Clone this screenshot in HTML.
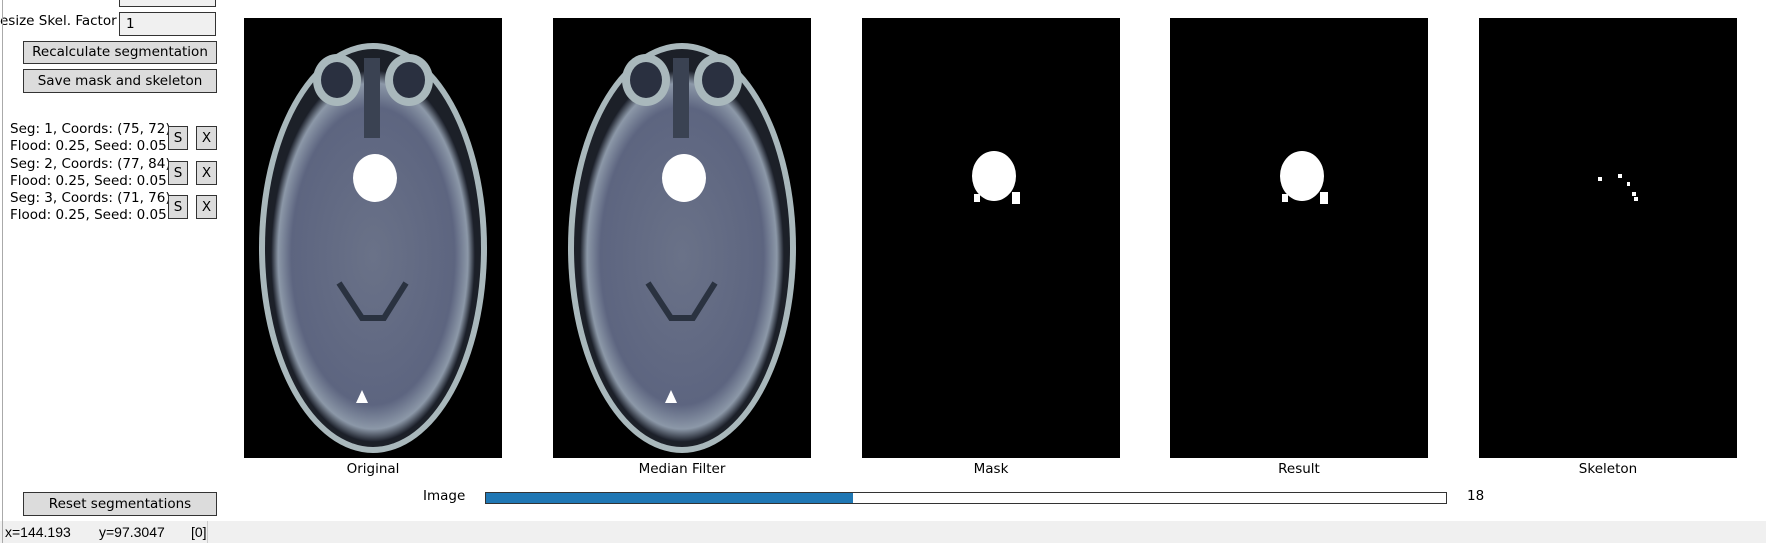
<!DOCTYPE html>
<html><head><meta charset="utf-8"><style>
body{margin:0;width:1766px;height:543px;background:#fff;position:relative;overflow:hidden;font-family:"DejaVu Sans","Liberation Sans",sans-serif;font-size:13px;color:#000}
.abs{position:absolute}
.btn{position:absolute;background:#dcdcdc;border:1px solid #333;box-sizing:border-box;text-align:center;font-size:13.5px;white-space:nowrap}
.tb{position:absolute;background:#f0f0f0;border:1px solid #333;box-sizing:border-box;padding-left:6px;font-size:13.5px}
.lbl{position:absolute;font-size:13.5px;text-align:center;width:258px}
</style></head><body>
<div class="tb" style="left:119px;top:-10px;width:97px;height:17px"></div>
<div class="abs" style="left:0;top:13px;font-size:13.5px">esize Skel. Factor</div>
<div class="tb" style="left:119px;top:12px;width:97px;height:24px;line-height:22px">1</div>
<div class="btn" style="left:23px;top:41px;width:194px;height:23px;line-height:21px">Recalculate segmentation</div>
<div class="btn" style="left:23px;top:69px;width:194px;height:24px;line-height:22px">Save mask and skeleton</div>

<div class="abs" style="left:10px;top:121px;line-height:17px;font-size:13.5px">Seg: 1, Coords: (75, 72)<br>Flood: 0.25, Seed: 0.05</div>
<div class="btn" style="left:168px;top:126px;width:20px;height:24px;line-height:22px">S</div>
<div class="btn" style="left:196px;top:126px;width:21px;height:24px;line-height:22px">X</div>
<div class="abs" style="left:10px;top:156px;line-height:17px;font-size:13.5px">Seg: 2, Coords: (77, 84)<br>Flood: 0.25, Seed: 0.05</div>
<div class="btn" style="left:168px;top:161px;width:20px;height:24px;line-height:22px">S</div>
<div class="btn" style="left:196px;top:161px;width:21px;height:24px;line-height:22px">X</div>
<div class="abs" style="left:10px;top:190px;line-height:17px;font-size:13.5px">Seg: 3, Coords: (71, 76)<br>Flood: 0.25, Seed: 0.05</div>
<div class="btn" style="left:168px;top:195px;width:20px;height:24px;line-height:22px">S</div>
<div class="btn" style="left:196px;top:195px;width:21px;height:24px;line-height:22px">X</div>

<div class="btn" style="left:23px;top:492px;width:194px;height:24px;line-height:22px">Reset segmentations</div>

<svg class="abs" style="left:0;top:0" width="1766" height="543">
<defs>
<radialGradient id="br" cx="50%" cy="50%" r="50%">
<stop offset="0" stop-color="#6a7288"/><stop offset="0.8" stop-color="#5d6580"/><stop offset="0.93" stop-color="#8c98a8"/><stop offset="1" stop-color="#1a1e28"/></radialGradient>
<g id="brain">
<ellipse cx="129" cy="230" rx="114" ry="205" fill="#a9b8bc"/>
<ellipse cx="129" cy="230" rx="108" ry="199" fill="#1c2028"/>
<ellipse cx="129" cy="238" rx="102" ry="186" fill="url(#br)"/>
<ellipse cx="93" cy="62" rx="24" ry="26" fill="#a9b8bc"/><ellipse cx="93" cy="62" rx="16" ry="18" fill="#2a3040"/>
<ellipse cx="165" cy="62" rx="24" ry="26" fill="#a9b8bc"/><ellipse cx="165" cy="62" rx="16" ry="18" fill="#2a3040"/>
<rect x="120" y="40" width="16" height="80" fill="#3a4252"/>
<ellipse cx="131" cy="160" rx="22" ry="24" fill="#fff"/>
<path d="M95 265 L118 300 L140 300 L162 265" stroke="#2a3240" stroke-width="6" fill="none"/>
<polygon points="112,385 118,372 124,385" fill="#fff"/>
</g></defs>
<g><rect x="244" y="18" width="258" height="440" fill="#000"/><use href="#brain" x="244" y="18"/></g>
<g><rect x="553" y="18" width="258" height="440" fill="#000"/><use href="#brain" x="553" y="18"/></g>
<g><rect x="862" y="18" width="258" height="440" fill="#000"/>
<ellipse cx="994" cy="176" rx="22" ry="25" fill="#fff"/><rect x="1012" y="192" width="8" height="12" fill="#fff"/><rect x="974" y="194" width="6" height="8" fill="#fff"/></g>
<g><rect x="1170" y="18" width="258" height="440" fill="#000"/>
<ellipse cx="1302" cy="176" rx="22" ry="25" fill="#fff"/><rect x="1320" y="192" width="8" height="12" fill="#fff"/><rect x="1282" y="194" width="6" height="8" fill="#fff"/></g>
<g><rect x="1479" y="18" width="258" height="440" fill="#000"/>
<rect x="1598" y="177" width="4" height="4" fill="#fff"/><rect x="1618" y="174" width="4" height="4" fill="#fff"/><rect x="1627" y="182" width="3" height="4" fill="#fff"/><rect x="1632" y="192" width="4" height="4" fill="#fff"/><rect x="1634" y="197" width="4" height="4" fill="#fff"/></g>
</svg>
<div class="lbl" style="left:244px;top:461px">Original</div>
<div class="lbl" style="left:553px;top:461px">Median Filter</div>
<div class="lbl" style="left:862px;top:461px">Mask</div>
<div class="lbl" style="left:1170px;top:461px">Result</div>
<div class="lbl" style="left:1479px;top:461px">Skeleton</div>

<div class="abs" style="left:423px;top:488px;font-size:13.5px">Image</div>
<div class="abs" style="left:485px;top:492px;width:962px;height:12px;border:1px solid #333;box-sizing:border-box;background:#fff">
<div style="width:367px;height:100%;background:#1f77b4"></div></div>
<div class="abs" style="left:1467px;top:488px;font-size:13.5px">18</div>

<div class="abs" style="left:0;top:521px;width:1766px;height:22px;background:#f0f0f0;font-size:14px;line-height:22px;font-family:'Liberation Sans',sans-serif">
<span style="position:absolute;left:5px;top:0">x=144.193</span><span style="position:absolute;left:99px;top:0">y=97.3047</span><span style="position:absolute;left:191px;top:0">[0]</span>
<div style="position:absolute;left:207px;top:0;width:1px;height:22px;background:#ccc"></div></div>
<div class="abs" style="left:2px;top:0;width:1px;height:543px;background:#aaa"></div>
</body></html>
